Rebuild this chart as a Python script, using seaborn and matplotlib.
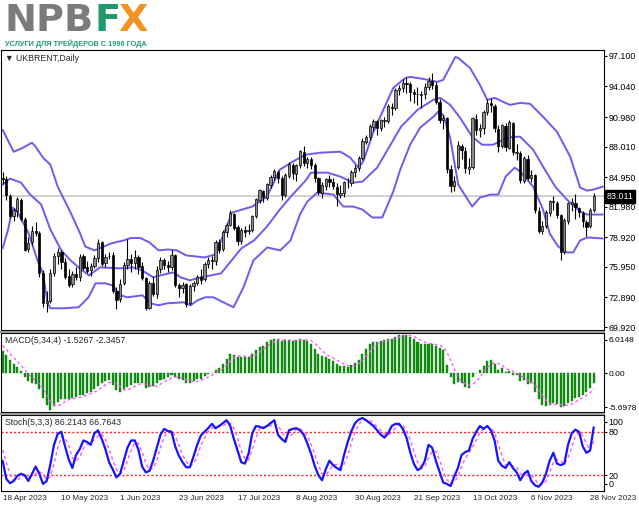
import numpy as np
import pandas as pd
import matplotlib
matplotlib.use("Agg")
import matplotlib.pyplot as plt
import matplotlib.transforms as mtransforms
import seaborn as sns

# ---- daily candles UKBRENT, 18 Apr 2023 .. 29 Nov 2023 ----
opens = [84.90, 84.80, 83.10, 81.10, 81.60, 82.70, 80.80, 77.70, 78.40, 79.50,
         79.30, 75.30, 72.30, 72.50, 75.30, 77.00, 77.40, 76.40, 75.00, 74.20,
         75.20, 74.90, 77.00, 75.90, 75.60, 76.00, 76.80, 78.40, 76.30, 77.00,
         77.10, 73.50, 72.70, 74.30, 76.10, 76.70, 76.30, 76.90, 76.00, 74.80,
         71.80, 74.30, 73.20, 75.70, 76.60, 76.10, 75.90, 77.10, 74.10, 73.80,
         74.20, 72.30, 74.00, 74.30, 74.90, 74.70, 76.20, 76.60, 76.50, 78.40,
         77.70, 79.40, 80.10, 81.30, 79.90, 78.50, 79.60, 79.50, 79.60, 81.10,
         82.70, 83.60, 82.90, 84.20, 85.00, 85.50, 84.90, 83.20, 85.10, 86.20,
         85.30, 86.20, 87.50, 86.40, 86.80, 86.20, 84.90, 83.40, 84.10, 84.80,
         84.50, 84.00, 83.20, 83.40, 84.50, 84.40, 85.50, 85.90, 86.90, 88.50,
         89.00, 90.00, 90.60, 89.90, 90.60, 90.60, 92.00, 91.90, 93.70, 93.90,
         94.40, 94.30, 93.50, 93.30, 93.20, 93.30, 94.00, 94.60, 94.20, 92.50,
         90.70, 90.90, 85.80, 84.10, 86.00, 88.10, 87.60, 85.80, 86.00, 90.80,
         89.70, 89.90, 91.50, 92.40, 92.10, 89.80, 88.10, 90.10, 87.90, 90.40,
         87.40, 87.40, 84.60, 86.80, 84.90, 85.20, 81.60, 79.50, 80.00, 81.40,
         82.50, 82.40, 81.20, 77.40, 80.60, 82.30, 82.40, 81.90, 81.40, 80.50,
         80.00, 81.70]
highs = [85.45, 85.10, 83.30, 81.90, 82.95, 82.90, 81.00, 78.90, 80.00, 80.50,
         79.50, 75.60, 73.50, 75.70, 77.30, 77.80, 77.60, 76.80, 75.70, 75.50,
         75.90, 77.20, 77.20, 76.50, 76.30, 77.10, 78.70, 78.50, 77.20, 77.40,
         77.40, 73.90, 74.70, 76.40, 78.70, 77.20, 77.60, 77.10, 76.40, 74.90,
         74.50, 75.00, 76.00, 76.90, 76.80, 76.50, 77.60, 77.20, 74.30, 74.40,
         74.30, 74.20, 74.50, 75.10, 75.70, 76.40, 76.90, 77.00, 78.60, 78.70,
         79.60, 80.40, 81.70, 81.40, 80.10, 79.80, 80.00, 80.30, 81.20, 82.90,
         83.80, 83.70, 84.40, 85.20, 85.80, 85.70, 85.10, 85.40, 86.50, 86.40,
         86.30, 87.70, 88.10, 87.00, 87.00, 86.40, 85.00, 84.50, 84.90, 85.20,
         84.90, 84.40, 84.20, 84.60, 84.90, 85.70, 86.20, 87.10, 88.90, 89.20,
         90.30, 90.80, 90.70, 90.80, 91.00, 92.30, 92.40, 93.90, 94.20, 94.80,
         95.00, 94.50, 93.80, 94.00, 93.60, 94.40, 95.00, 95.40, 94.50, 92.80,
         91.20, 91.00, 86.20, 85.10, 88.60, 88.30, 88.00, 86.90, 91.00, 91.30,
         90.30, 91.70, 92.80, 92.90, 92.30, 90.20, 90.30, 90.40, 90.70, 90.50,
         88.30, 87.60, 87.10, 87.20, 85.70, 85.30, 82.00, 80.60, 81.70, 82.70,
         83.10, 82.60, 81.30, 80.90, 82.50, 82.90, 83.30, 82.00, 81.60, 80.70,
         81.90, 83.40]
lows = [84.30, 82.70, 80.90, 80.60, 81.00, 80.60, 77.50, 77.40, 78.10, 79.00,
        74.90, 71.90, 71.40, 72.30, 75.00, 76.20, 75.70, 74.70, 73.90, 73.90,
        74.60, 74.50, 75.60, 75.30, 75.00, 75.80, 76.40, 76.00, 75.90, 76.70,
        73.30, 71.70, 72.40, 74.10, 75.70, 75.40, 75.70, 75.20, 74.60, 71.60,
        71.70, 73.00, 72.80, 75.30, 75.70, 75.40, 75.60, 73.90, 72.90, 73.30,
        71.90, 72.10, 73.50, 74.10, 74.20, 74.50, 75.80, 75.70, 76.10, 77.30,
        77.50, 78.90, 80.00, 79.60, 78.10, 78.20, 78.90, 79.20, 79.40, 80.90,
        82.40, 82.50, 82.70, 83.90, 84.70, 84.40, 82.70, 83.00, 84.90, 84.80,
        84.60, 85.90, 86.10, 85.90, 85.80, 84.50, 83.20, 82.90, 83.70, 84.00,
        83.80, 82.10, 82.90, 83.00, 83.90, 84.10, 85.00, 85.60, 86.70, 88.30,
        88.70, 89.60, 89.20, 89.60, 90.00, 90.40, 91.20, 91.70, 93.20, 93.50,
        93.40, 92.60, 92.40, 92.20, 91.90, 92.80, 93.70, 93.80, 92.30, 90.40,
        89.80, 85.40, 83.50, 83.60, 85.80, 86.80, 85.40, 85.30, 85.80, 89.20,
        89.00, 89.30, 91.20, 91.50, 89.50, 87.50, 87.90, 87.60, 87.80, 87.20,
        86.70, 84.40, 84.40, 84.70, 84.50, 81.40, 79.30, 79.20, 79.80, 81.10,
        81.70, 80.90, 76.60, 77.20, 80.30, 81.60, 80.80, 81.00, 79.90, 79.00,
        79.80, 81.50]
closes = [84.77, 83.12, 81.10, 81.66, 82.73, 80.77, 77.69, 78.37, 79.54, 79.31,
          75.32, 72.33, 72.50, 75.30, 77.01, 77.44, 76.41, 74.98, 74.17, 75.23,
          74.91, 76.96, 75.86, 75.58, 75.99, 76.84, 78.36, 76.26, 76.95, 77.07,
          73.54, 72.66, 74.28, 76.13, 76.71, 76.29, 76.95, 75.96, 74.79, 71.84,
          74.29, 73.20, 75.67, 76.61, 76.09, 75.90, 77.12, 74.14, 73.85, 74.18,
          72.26, 74.03, 74.34, 74.90, 74.65, 76.25, 76.65, 76.52, 78.47, 77.69,
          79.40, 80.11, 81.36, 79.87, 78.50, 79.63, 79.46, 79.64, 81.07, 82.74,
          83.64, 82.92, 84.24, 84.99, 85.56, 84.91, 83.20, 85.14, 86.24, 85.34,
          86.17, 87.55, 86.40, 86.81, 86.21, 84.89, 83.45, 84.12, 84.80, 84.46,
          84.03, 83.21, 83.36, 84.48, 84.42, 85.49, 85.86, 86.86, 88.55, 89.00,
          90.04, 90.60, 89.92, 90.65, 90.64, 92.06, 91.88, 93.70, 93.93, 94.43,
          94.34, 93.53, 93.30, 93.27, 93.29, 93.96, 94.60, 94.20, 92.50, 90.71,
          90.92, 85.81, 84.07, 84.58, 88.15, 87.65, 85.82, 86.00, 90.89, 89.65,
          89.90, 91.50, 92.38, 92.16, 89.83, 88.07, 90.13, 87.93, 90.48, 87.45,
          87.41, 84.63, 86.85, 84.89, 85.18, 81.61, 79.54, 80.01, 81.43, 82.52,
          82.47, 81.18, 77.42, 80.61, 82.32, 82.45, 81.96, 81.42, 80.58, 79.98,
          81.68, 83.01]
last_price = 83.011

# ---- Bollinger bands (at bar positions) ----
upper_bars = [0, 3, 5, 8, 9, 11, 13, 15, 18.5, 21, 22.5, 25, 27, 29.5, 33, 35, 37.5, 40,
              42.5, 45, 47.5, 50, 55, 58, 62.5, 68, 72, 75.5, 79, 82.5, 86.5, 92, 94.7,
              96.9, 98.2, 101, 103.7, 106.4, 109.7, 111, 114.6, 118.4, 120, 123.3, 124.1,
              127.3, 130, 132, 134.1, 136.9, 138.2, 141, 143.7, 147.2, 151, 154.6, 157.3,
              159.2, 160.9, 163.5]
upper_vals = [89.7, 87.5, 87.8, 88.4, 88.0, 86.9, 86.2, 84.0, 81.4, 79.4, 78.0, 77.6, 77.9,
              78.3, 78.6, 78.85, 78.85, 78.4, 77.6, 77.7, 77.6, 77.1, 76.9, 77.2, 81.4, 82.0,
              83.0, 85.7, 86.5, 87.2, 87.4, 87.5, 86.9, 85.9, 86.5, 89.5, 91.7, 93.9, 94.9,
              95.0, 94.8, 94.5, 94.7, 97.0, 96.9, 95.9, 94.2, 92.7, 92.9, 92.4, 92.2, 92.4,
              92.3, 91.0, 89.5, 87.0, 83.9, 83.6, 83.7, 84.0]
middle_bars = [0, 2, 5, 7.5, 10.5, 13, 16, 18.5, 21, 23.5, 26.5, 32, 35.5, 38, 41, 43,
               46.5, 48.5, 51, 54, 59.5, 65, 68.5, 72, 75.5, 78.5, 82.5, 84, 88.5, 92,
               95.5, 98, 102, 105.5, 108.5, 113, 117.3, 119.2, 121.9, 124.6, 127.9,
               130.6, 133.6, 136.9, 139, 141, 144.5, 147.2, 150.5, 153.7, 157.3, 159.2,
               163.5]
middle_vals = [84.2, 84.8, 84.4, 83.2, 82.2, 79.7, 77.6, 76.6, 75.8, 75.1, 75.9, 75.8,
               75.9, 75.6, 74.9, 75.1, 75.4, 74.9, 74.6, 74.9, 75.3, 77.8, 78.6, 80.0,
               81.7, 83.0, 84.6, 85.4, 85.4, 85.0, 84.4, 84.5, 85.9, 88.1, 90.0, 91.7,
               92.7, 92.9, 92.2, 90.9, 89.0, 88.2, 88.2, 88.8, 89.0, 89.0, 87.7, 86.0,
               84.0, 82.7, 81.5, 81.2, 81.2]
lower_bars = [0, 1.5, 2.7, 4, 7, 9.5, 11, 12.2, 13, 16.6, 20.7, 23.4, 25.3, 28, 29.9,
              32.1, 34, 38.1, 40.3, 42.4, 44.9, 49.3, 51.2, 53.1, 55.2, 57.4, 60.1, 62.9,
              65.6, 68.3, 72.1, 75.6, 78.4, 81.1, 83, 85.7, 90.1, 92.8, 95.5, 98, 100.7,
              103.4, 106.4, 108.3, 111, 113.7, 117.3, 118.6, 120, 121.9, 124.1, 127.9,
              130, 132.8, 135, 137, 139.5, 141, 144.5, 147.2, 149, 151.3, 153.7, 155.4,
              157.3, 159.2, 163.5]
lower_vals = [77.8, 79.7, 81.9, 81.5, 79.4, 76.6, 75.3, 72.4, 71.8, 71.8, 71.9, 72.9,
              74.3, 74.3, 74.1, 73.1, 72.9, 73.1, 72.3, 72.1, 72.3, 72.4, 72.1, 72.6, 72.9,
              72.9, 72.4, 71.9, 73.9, 76.6, 77.9, 77.6, 78.6, 81.3, 82.5, 83.4, 83.2, 82.0,
              82.0, 81.7, 80.9, 80.9, 83.5, 85.7, 88.2, 89.9, 91.0, 91.5, 91.2, 88.9, 84.2,
              82.0, 82.9, 83.2, 83.2, 85.0, 85.9, 85.5, 84.0, 81.7, 79.3, 78.0, 77.4, 77.4,
              78.6, 78.9, 78.8]

# ---- MACD(5,34,4): histogram and signal per bar ----
macd_hist = [3.4, 2.8, 2.1, 1.5, 1.0, 0.4, -0.5, -1.1, -1.4, -1.6,
             -2.4, -3.8, -4.9, -5.7, -5.0, -4.4, -4.0, -3.9, -3.9, -3.8,
             -3.7, -3.4, -3.3, -3.0, -2.8, -2.4, -2.0, -1.4, -1.2, -1.0,
             -1.8, -2.6, -2.8, -2.5, -2.1, -1.8, -1.5, -1.4, -1.5, -2.2,
             -2.1, -2.0, -1.5, -1.0, -0.8, -0.6, -0.3, -0.5, -0.9, -1.0,
             -1.5, -1.4, -1.2, -0.9, -0.8, -0.4, -0.1, 0.1, 0.6, 0.9,
             1.5, 2.2, 3.0, 2.9, 2.6, 2.6, 2.5, 2.5, 3.0, 3.6,
             4.1, 4.3, 4.8, 5.1, 5.4, 5.3, 5.0, 5.1, 5.2, 5.0,
             5.1, 5.4, 5.2, 5.0, 4.6, 3.8, 3.0, 2.7, 2.6, 2.3,
             2.0, 1.5, 1.2, 1.1, 1.0, 1.3, 1.6, 2.1, 3.0, 3.8,
             4.5, 4.9, 4.9, 5.0, 5.1, 5.4, 5.4, 5.7, 5.9, 6.0,
             5.9, 5.6, 5.3, 4.9, 4.6, 4.5, 4.5, 4.6, 4.3, 3.9,
             3.6, 1.3, -0.5, -1.6, -1.3, -1.5, -2.1, -2.3, -0.6, 0.0,
             0.5, 1.2, 1.9, 2.1, 1.5, 0.6, 0.9, 0.2, 0.4, -0.2,
             -0.3, -1.2, -1.0, -1.6, -1.5, -2.8, -4.0, -4.8, -5.0, -4.8,
             -4.6, -4.7, -5.2, -5.0, -4.6, -4.2, -3.8, -3.6, -3.3, -2.9,
             -2.2, -1.5267]
macd_signal = [4.3, 3.7, 3.0, 2.45, 1.85, 1.25, 0.6, -0.05, -0.65, -1.15,
               -1.63, -2.3, -3.18, -4.2, -4.85, -5.0, -4.78, -4.33, -4.05, -3.9,
               -3.83, -3.7, -3.55, -3.35, -3.13, -2.88, -2.55, -2.15, -1.75, -1.4,
               -1.35, -1.65, -2.05, -2.43, -2.5, -2.3, -1.98, -1.7, -1.55, -1.65,
               -1.8, -1.95, -1.95, -1.65, -1.33, -0.98, -0.68, -0.55, -0.58, -0.68,
               -0.98, -1.2, -1.28, -1.25, -1.08, -0.83, -0.55, -0.3, 0.05, 0.38,
               0.78, 1.3, 1.9, 2.4, 2.68, 2.78, 2.65, 2.55, 2.65, 2.9,
               3.3, 3.75, 4.2, 4.58, 4.9, 5.15, 5.2, 5.2, 5.15, 5.08,
               5.1, 5.18, 5.18, 5.18, 5.05, 4.65, 4.1, 3.53, 3.03, 2.65,
               2.4, 2.1, 1.75, 1.45, 1.2, 1.15, 1.25, 1.5, 2.0, 2.63,
               3.35, 4.05, 4.53, 4.83, 4.98, 5.1, 5.23, 5.4, 5.6, 5.75,
               5.88, 5.85, 5.7, 5.43, 5.1, 4.83, 4.63, 4.55, 4.48, 4.33,
               4.1, 3.28, 2.08, 0.7, -0.53, -1.23, -1.63, -1.8, -1.63, -1.25,
               -0.6, 0.28, 0.9, 1.43, 1.68, 1.53, 1.28, 0.8, 0.53, 0.33,
               0.03, -0.33, -0.68, -1.03, -1.33, -1.73, -2.48, -3.28, -4.15, -4.65,
               -4.8, -4.78, -4.83, -4.88, -4.88, -4.75, -4.4, -4.05, -3.73, -3.4,
               -3.0, -2.3457]

# ---- Stochastic(5,3,3) %K and %D per bar ----
stoch_k = [40, 15, 9, 12, 19, 22, 20, 12, 22, 32,
           22, 8, 12, 35, 62, 77, 80, 60, 42, 30,
           48, 56, 68, 66, 62, 78, 82, 70, 56, 38,
           28, 17, 22, 40, 58, 68, 68, 55, 32, 24,
           26, 40, 58, 76, 84, 81, 80, 60, 47, 38,
           31, 31, 46, 62, 75, 80, 85, 91, 85, 88,
           92, 96, 88, 70, 54, 38, 36, 50, 78, 88,
           87, 85, 88, 92, 96, 76, 70, 66, 82, 84,
           85, 82, 76, 64, 50, 33, 20, 13, 28, 40,
           34, 30, 27, 48, 66, 81, 92, 97, 99, 96,
           92, 88, 82, 76, 72, 78, 88, 91, 91, 84,
           72, 52, 36, 27, 30, 40, 62, 58, 40, 25,
           10, 8, 5, 18, 30, 48, 52, 54, 70, 80,
           88, 84, 88, 82, 68, 40, 33, 30, 38, 30,
           24, 13, 22, 26, 12, 6, 4, 10, 22, 40,
           51, 36, 34, 36, 62, 78, 83, 80, 60, 51,
           54, 86.2143]
stoch_d = [55, 38, 21, 12, 13, 18, 20, 18, 18, 22,
           25, 21, 14, 18, 36, 58, 73, 72, 61, 44,
           40, 45, 57, 63, 65, 69, 74, 77, 69, 55,
           41, 28, 22, 26, 40, 55, 65, 64, 52, 37,
           27, 30, 41, 58, 73, 80, 82, 74, 62, 48,
           39, 33, 36, 46, 61, 72, 80, 85, 87, 88,
           88, 92, 92, 85, 71, 54, 43, 41, 55, 72,
           84, 87, 87, 88, 92, 88, 81, 71, 73, 77,
           84, 84, 81, 74, 63, 49, 34, 22, 20, 27,
           34, 35, 30, 35, 47, 65, 80, 90, 96, 97,
           96, 92, 87, 82, 77, 75, 79, 86, 90, 89,
           82, 69, 53, 38, 31, 32, 44, 53, 53, 41,
           25, 14, 8, 10, 18, 32, 43, 51, 59, 68,
           79, 84, 87, 85, 79, 63, 47, 34, 34, 33,
           31, 22, 20, 20, 20, 15, 7, 7, 12, 24,
           38, 42, 40, 35, 44, 59, 74, 80, 74, 64,
           55, 66.7643]

# ---- axes text ----
price_ticks = [97.100, 94.040, 90.980, 88.010, 84.950, 81.980, 78.920, 75.950, 72.890, 69.920]
date_labels = ["18 Apr 2023", "10 May 2023", "1 Jun 2023", "23 Jun 2023", "17 Jul 2023",
               "8 Aug 2023", "30 Aug 2023", "21 Sep 2023", "13 Oct 2023", "6 Nov 2023",
               "28 Nov 2023"]
date_bars = [0, 16, 32, 48, 64, 80, 96, 112, 128, 144, 160]

W, H = 639, 508
BAND = "#6a5cf0"
FONT = ["Liberation Sans", "DejaVu Sans"]


def px_rect(x0, y0, x1, y1):
    """pixel box (top-left origin) -> figure fraction rect"""
    return [x0 / W, 1 - y1 / H, (x1 - x0) / W, (y1 - y0) / H]


def style_axis(ax):
    for s in ax.spines.values():
        s.set_color("black")
        s.set_linewidth(0.8)
    ax.set_xlim(-0.55, 163.8)
    ax.yaxis.tick_right()
    ax.tick_params(axis="y", direction="out", length=2.2, width=0.8, pad=1.2,
                   labelsize=6.4, colors="black")
    ax.set_xticks([])
    ax.set_xlabel("")
    ax.set_ylabel("")


def plot_price(ax):
    bars = np.arange(len(closes))
    o, c = np.array(opens), np.array(closes)
    h, l = np.array(highs), np.array(lows)
    up = c >= o
    ax.axhline(last_price, color="#c8c8c8", lw=1.2, zorder=1)
    ax.vlines(bars, l, h, color="black", lw=0.8, zorder=3)
    body = np.maximum(np.abs(c - o), 0.06)
    ax.bar(bars[up], body[up], bottom=o[up], width=0.62, color="#8c8c8c",
           edgecolor="black", linewidth=0.5, zorder=4)
    ax.bar(bars[~up], body[~up], bottom=c[~up], width=0.62, color="black",
           edgecolor="black", linewidth=0.5, zorder=4)
    for xb, yb in [(upper_bars, upper_vals), (middle_bars, middle_vals), (lower_bars, lower_vals)]:
        sns.lineplot(x=xb, y=yb, ax=ax, color=BAND, lw=1.4, zorder=2)
    style_axis(ax)
    ax.set_ylim(69.62, 97.70)
    ax.set_yticks(price_ticks)
    ax.set_yticklabels([f"{v:.3f}" for v in price_ticks], family=FONT)
    ax.text(0.008, 0.985, "\u25bc UKBRENT,Daily", transform=ax.transAxes, fontsize=6.3,
            va="top", ha="left", family=FONT)
    tr = mtransforms.blended_transform_factory(ax.transAxes, ax.transData)
    ax.text(1.005, last_price, f"{last_price:.3f}", transform=tr, fontsize=6.4, color="white",
            va="center", ha="left", family=FONT,
            bbox=dict(boxstyle="square,pad=0.18", fc="black", ec="black"), zorder=10)


def plot_macd(ax):
    bars = np.arange(len(macd_hist))
    ax.bar(bars, macd_hist, width=0.55, color="#118a11", edgecolor="#118a11", linewidth=0.3)
    sns.lineplot(x=bars, y=macd_signal, ax=ax, color="#ff55ff", lw=1.0, linestyle=(0, (2, 2)))
    style_axis(ax)
    ax.set_ylim(-5.95, 6.25)
    ax.set_yticks([5.2, 0.0, -5.2])
    ax.set_yticklabels(["6.0148", "0.00", "-5.6978"], family=FONT, fontsize=6.0)
    ax.text(0.008, 0.96, "MACD(5,34,4) -1.5267 -2.3457", transform=ax.transAxes,
            fontsize=6.3, va="top", ha="left", family=FONT)


def plot_stoch(ax):
    bars = np.arange(len(stoch_k))
    ax.axhline(80, color="#ff2020", lw=1.0, linestyle=(0, (1.5, 1.5)))
    ax.axhline(20, color="#ff2020", lw=1.0, linestyle=(0, (1.5, 1.5)))
    sns.lineplot(x=bars, y=stoch_d, ax=ax, color="#ff55ff", lw=1.0, linestyle=(0, (2.5, 2)))
    sns.lineplot(x=bars, y=stoch_k, ax=ax, color="#1414ff", lw=1.6)
    style_axis(ax)
    ax.set_ylim(-1.8, 103.2)
    ax.set_yticks([93.7, 80, 20, 8.2])
    ax.set_yticklabels(["100", "80", "20", "0"], family=FONT)
    ax.text(0.008, 0.96, "Stoch(5,3,3) 86.2143 66.7643", transform=ax.transAxes,
            fontsize=6.3, va="top", ha="left", family=FONT)
    ax.set_xticks(date_bars)
    ax.set_xticklabels(date_labels, family=FONT, ha="left")
    ax.tick_params(axis="x", direction="out", length=2.5, width=0.8, pad=0.5, labelsize=5.9)


def draw_logo(fig):
    fig.canvas.draw()
    r = fig.canvas.get_renderer()
    t = fig.text(5 / W, 1 - 21 / H, "NPB", fontsize=27.5, fontweight="bold",
                 color="#7b7b7b", va="center", ha="left", family="DejaVu Sans")
    x = t.get_window_extent(r).x1 / W
    t = fig.text(x, 1 - 21 / H, "F", fontsize=27.5, fontweight="bold",
                 color="#1f9b6b", va="center", ha="left", family="DejaVu Sans")
    x = t.get_window_extent(r).x1 / W
    fig.text(x - 0.004, 1 - 21 / H, "X", fontsize=27.5, fontweight="bold",
             color="#f29224", va="center", ha="left", family="DejaVu Sans")
    sub = fig.text(5 / W, 1 - 43.5 / H, "УСЛУГИ ДЛЯ ТРЕЙДЕРОВ С 1996 ГОДА", fontsize=7,
                   fontweight="bold", color="#1f9b6b", va="center", ha="left",
                   family=["Liberation Sans Narrow", "Liberation Sans", "DejaVu Sans"])
    wpx = sub.get_window_extent(r).width
    sub.set_fontsize(7 * 143 / wpx)


def main():
    sns.set_style("white")
    plt.rcParams["font.family"] = FONT
    fig = plt.figure(figsize=(W / 100, H / 100), dpi=100)
    ax_main = fig.add_axes(px_rect(0.6, 50, 604, 330))
    ax_macd = fig.add_axes(px_rect(0.6, 333, 604, 412))
    ax_stoch = fig.add_axes(px_rect(0.6, 415, 604, 491))

    plot_price(ax_main)
    plot_macd(ax_macd)
    plot_stoch(ax_stoch)

    # gray separators between sub-windows
    for yp in (331.5, 413.5):
        fig.add_artist(plt.Line2D([0, 604 / W], [1 - yp / H, 1 - yp / H], color="#9a9a9a",
                                  lw=1.6, transform=fig.transFigure))

    draw_logo(fig)
    fig.savefig("out.png", dpi=100)
    plt.close(fig)


if __name__ == "__main__":
    main()
